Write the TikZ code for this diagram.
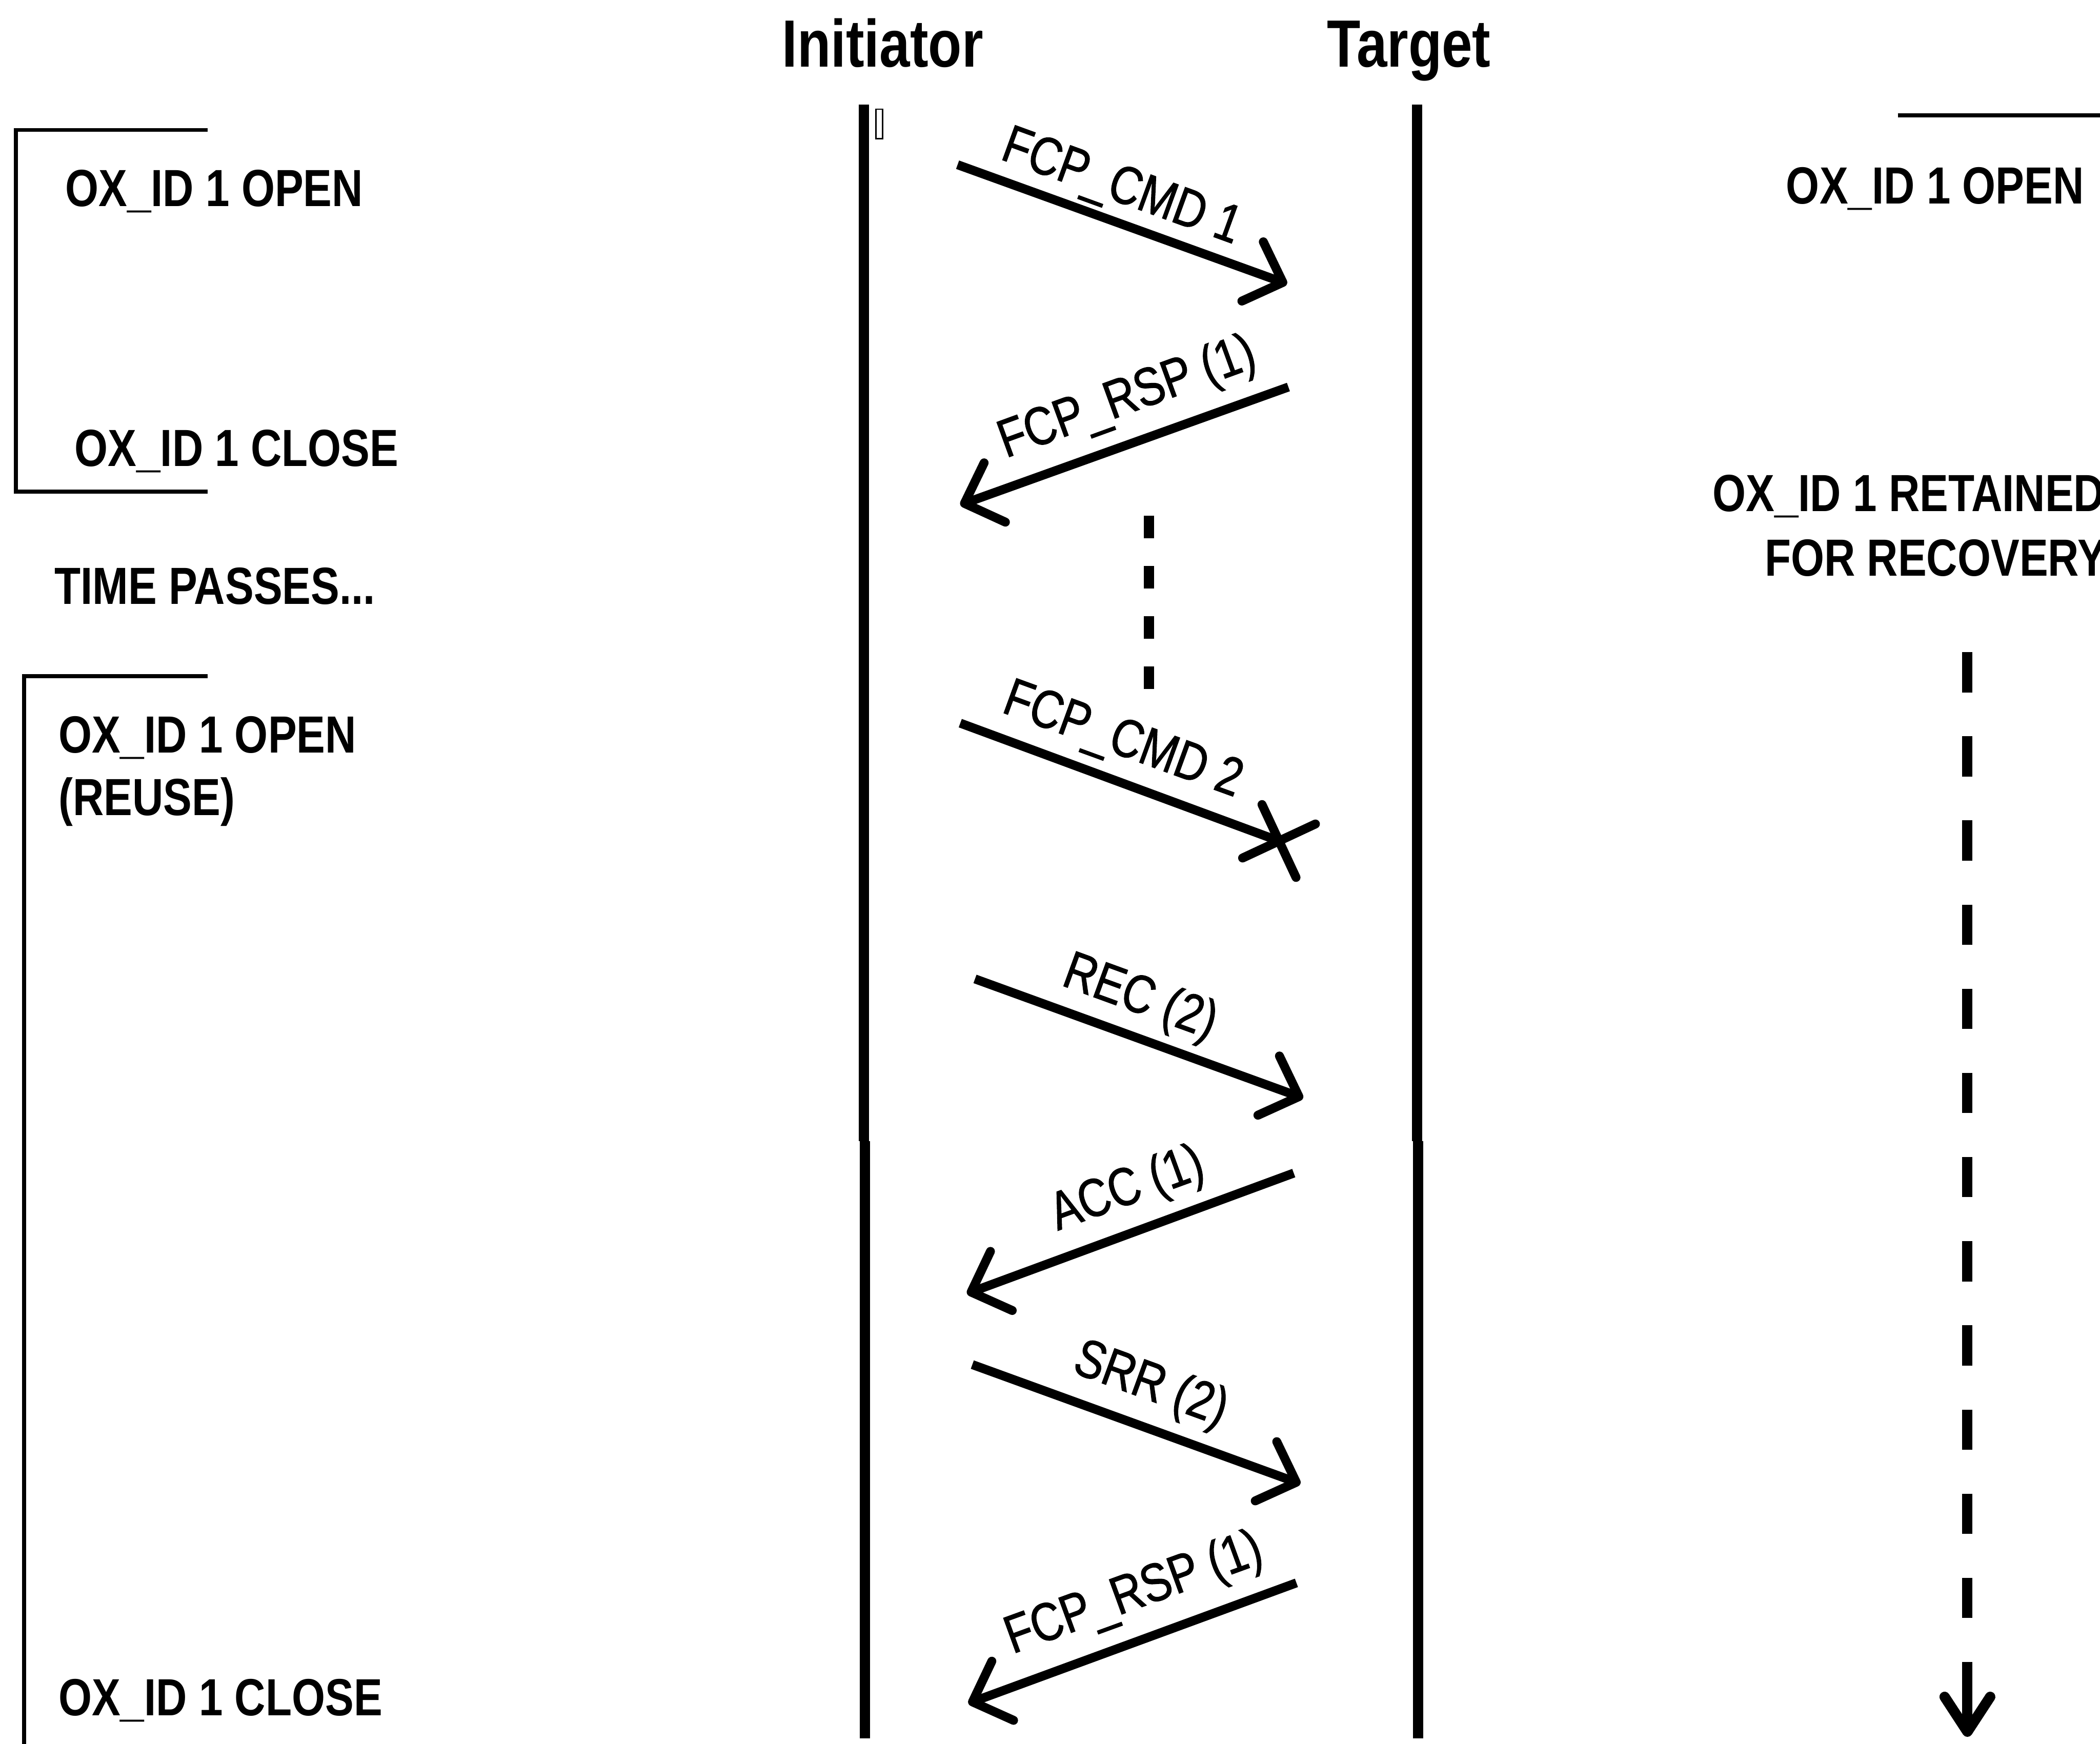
\documentclass[tikz,border=0pt]{standalone}
\usepackage{fontspec}
\setmainfont{Liberation Sans}[FakeStretch=0.82]
\newfontfamily\lblfont{Liberation Sans}[FakeStretch=0.82,FakeBold=1.2]
\usetikzlibrary{arrows.meta}
\begin{document}
\begin{tikzpicture}[x=0.01cm,y=-0.01cm,
  life/.style={line width=2.13pt},
  msgline/.style={line width=1.9pt},
  arr/.style={msgline,-{Straight Barb[length=0.24cm,width=0.47cm,round]}},
  brk/.style={line width=0.85pt},
  dsh/.style={line width=2.2pt},
  lbl/.style={font=\lblfont\fontsize{11.4pt}{13pt}\selectfont,inner sep=0pt},
  state/.style={font=\bfseries\fontsize{11.1pt}{13pt}\selectfont,inner sep=0pt,anchor=base west},
  head/.style={font=\bfseries\fontsize{14.2pt}{17pt}\selectfont,inner sep=0pt,anchor=base}]
\useasboundingbox (0,0) rectangle (1568,1302);
\clip (0,0) rectangle (1568,1302);
\fill[white] (0,0) rectangle (1568,1302);

% headers
\node[head] (hI) at (659,50) {Initiator};
\node[head] (hT) at (1052,50) {Target};

% lifelines
\coordinate (iTop) at (645,78);
\coordinate (iMa) at (645,852);
\coordinate (iMb) at (645.8,852);
\coordinate (iBot) at (645.8,1298);
\coordinate (tTop) at (1058,78);
\coordinate (tMa) at (1058,852);
\coordinate (tMb) at (1058.8,852);
\coordinate (tBot) at (1058.8,1298);
\draw[life] (iTop) -- (iMa);
\draw[life] (iMb) -- (iBot);
\draw[life] (tTop) -- (tMa);
\draw[life] (tMb) -- (tBot);

% small empty box
\node[draw,line width=0.3pt,minimum width=0.05cm,minimum height=0.22cm,inner sep=0pt] (box) at (656.5,92.5) {};

% messages
\coordinate (m1s) at (715,123);  \coordinate (m1e) at (961,212);
\coordinate (m2s) at (962,289);  \coordinate (m2e) at (717,377);
\coordinate (m3s) at (717,540);  \coordinate (m3e) at (955,628);
\coordinate (m4s) at (728,731);  \coordinate (m4e) at (973,820);
\coordinate (m5s) at (966,876);  \coordinate (m5e) at (722,966);
\coordinate (m6s) at (726,1019); \coordinate (m6e) at (971,1108);
\coordinate (m7s) at (968,1182); \coordinate (m7e) at (723,1272);

\draw[arr] (m1s) -- (m1e);
\draw[arr] (m2s) -- (m2e);
\draw[msgline] (m3s) -- (m3e);
\draw[arr] (m4s) -- (m4e);
\draw[arr] (m5s) -- (m5e);
\draw[arr] (m6s) -- (m6e);
\draw[arr] (m7s) -- (m7e);

% X at end of FCP_CMD 2
\coordinate (xa1) at (942.3,600.8); \coordinate (xa2) at (967.7,655.2);
\coordinate (xb1) at (927.8,640.7); \coordinate (xb2) at (982.2,615.3);
\draw[msgline,line cap=round] (xa1) -- (xa2);
\draw[msgline,line cap=round] (xb1) -- (xb2);

% message labels
\node[lbl,rotate=-20] (l1) at (837,141) {FCP\_CMD 1};
\node[lbl,rotate=20]  (l2) at (842,298) {FCP\_RSP (1)};
\node[lbl,rotate=-20] (l3) at (838,554) {FCP\_CMD 2};
\node[lbl,rotate=-20] (l4) at (851,746) {REC (2)};
\node[lbl,rotate=20]  (l5) at (842,889) {ACC (1)};
\node[lbl,rotate=-20] (l6) at (859,1035) {SRR (2)};
\node[lbl,rotate=20]  (l7) at (847,1191) {FCP\_RSP (1)};

% centre dashed line
\coordinate (cd1) at (858,385);
\coordinate (cd2) at (858,515);
\draw[dsh,dash pattern=on 0.17cm off 0.205cm] (cd1) -- (cd2);

% left brackets
\coordinate (b1a) at (155,97); \coordinate (b1b) at (12,97);
\coordinate (b1c) at (12,367); \coordinate (b1d) at (155,367);
\draw[brk] (b1a) -- (b1b) -- (b1c) -- (b1d);
\coordinate (b2a) at (155,505); \coordinate (b2b) at (18,505);
\coordinate (b2c) at (18,1310);
\draw[brk] (b2a) -- (b2b) -- (b2c);

% right bracket top
\coordinate (r1a) at (1417,86); \coordinate (r1b) at (1575,86);
\draw[brk] (r1a) -- (r1b);

% left state texts
\node[state] (s1) at (48,154) {OX\_ID 1 OPEN};
\node[state] (s2) at (55,348) {OX\_ID 1 CLOSE};
\node[state] (s3) at (40,451) {TIME PASSES...};
\node[state] (s4) at (43,562) {OX\_ID 1 OPEN};
\node[state] (s5) at (43,609) {(REUSE)};
\node[state] (s6) at (43,1281) {OX\_ID 1 CLOSE};

% right state texts
\node[state] (r1) at (1333,152) {OX\_ID 1 OPEN};
\node[state] (r2) at (1278,382) {OX\_ID 1 RETAINED};
\node[state] (r3) at (1317,430) {FOR RECOVERY};

% right dashed arrow
\coordinate (rd1) at (1469,487);
\coordinate (rd2) at (1469,1210);
\coordinate (rd3) at (1469,1241);
\coordinate (rd4) at (1469,1297);
\draw[dsh,dash pattern=on 0.30cm off 0.328cm] (rd1) -- (rd2);
\draw[dsh,-{Straight Barb[length=0.26cm,width=0.34cm,round]}] (rd3) -- (rd4);
\end{tikzpicture}
\end{document}
